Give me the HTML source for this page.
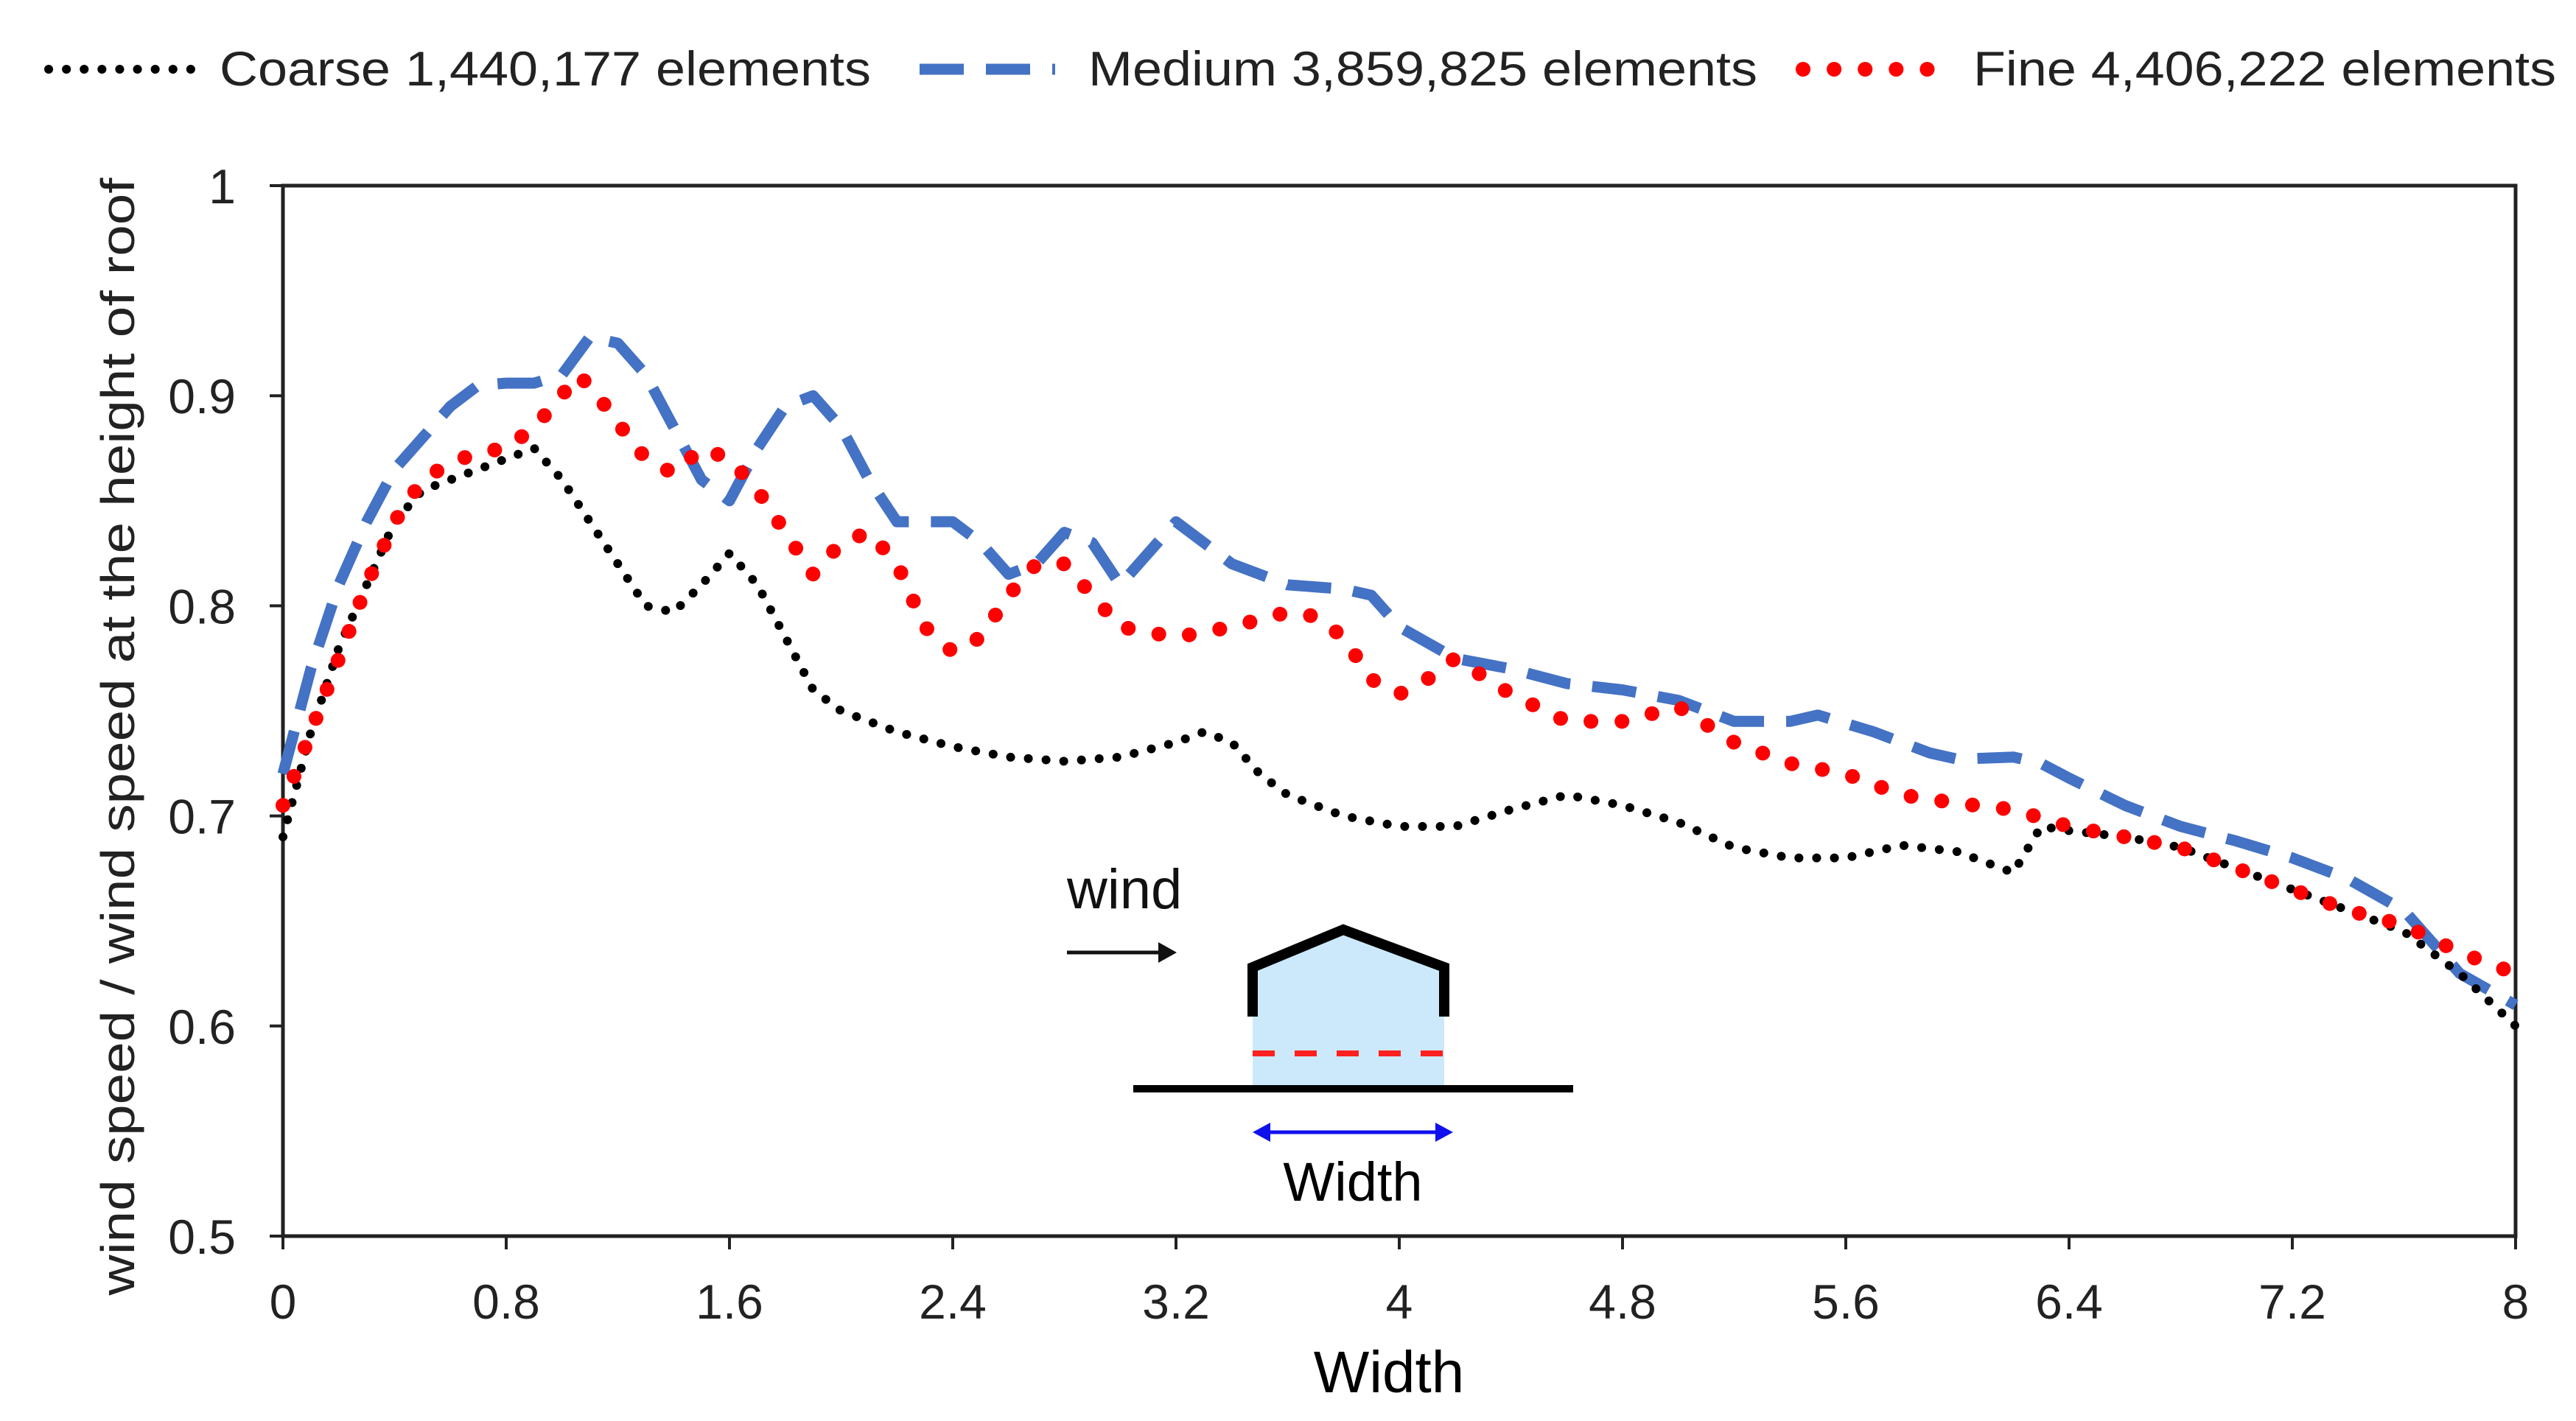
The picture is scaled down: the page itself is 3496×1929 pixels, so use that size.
<!DOCTYPE html>
<html><head><meta charset="utf-8"><style>
html,body{margin:0;padding:0;background:#fff;}
svg{display:block;}
text{font-family:"Liberation Sans",Arial,sans-serif;}
</style></head><body>
<svg id="chart" width="3496" height="1929" viewBox="0 0 3496 1929" xmlns="http://www.w3.org/2000/svg">
  <g>
    <line x1="66" y1="94" x2="264" y2="94" stroke="#000" stroke-width="12" stroke-linecap="round" stroke-dasharray="0.1 24"/>
    <text x="298" y="116" font-size="66" fill="#222" textLength="884" lengthAdjust="spacingAndGlyphs">Coarse 1,440,177 elements</text>
    <line x1="1248" y1="94" x2="1432" y2="94" stroke="#4472c4" stroke-width="15" stroke-dasharray="60 30"/>
    <text x="1477" y="116" font-size="66" fill="#222" textLength="908" lengthAdjust="spacingAndGlyphs">Medium 3,859,825 elements</text>
    <line x1="2447" y1="94" x2="2655" y2="94" stroke="#ff0000" stroke-width="20" stroke-linecap="round" stroke-dasharray="0.1 42"/>
    <text x="2678" y="116" font-size="66" fill="#222" textLength="791" lengthAdjust="spacingAndGlyphs">Fine 4,406,222 elements</text>
  </g>
  <rect x="384" y="252" width="3030" height="1426" fill="none" stroke="#222" stroke-width="5"/>
  <g id="axes"></g>
  <text x="1885" y="1890" font-size="80" text-anchor="middle" fill="#000">Width</text>
  <text transform="translate(182,1000) rotate(-90)" font-size="64" text-anchor="middle" fill="#222" textLength="1517" lengthAdjust="spacingAndGlyphs">wind speed / wind speed at the height of roof</text>
  <g>
    <text x="1448" y="1233" font-family="Liberation Serif,serif" font-size="76" fill="#111">wind</text>
    <line x1="1448" y1="1293" x2="1580" y2="1293" stroke="#111" stroke-width="5"/>
    <polygon points="1597,1293 1572,1279 1572,1307" fill="#111"/>
    <polygon points="1700,1313 1823,1262 1960,1313 1960,1475 1700,1475" fill="#cce9fb"/>
    <polyline points="1700,1380 1700,1313 1823,1262 1960,1313 1960,1380" fill="none" stroke="#000" stroke-width="14"/>
    <line x1="1700" y1="1430" x2="1965" y2="1430" stroke="#ff2020" stroke-width="8" stroke-dasharray="30 27"/>
    <line x1="1538" y1="1478" x2="2135" y2="1478" stroke="#000" stroke-width="10"/>
    <line x1="1720" y1="1537" x2="1950" y2="1537" stroke="#1010ee" stroke-width="5"/>
    <polygon points="1700,1537 1724,1524 1724,1550" fill="#1010ee"/>
    <polygon points="1972,1537 1948,1524 1948,1550" fill="#1010ee"/>
    <text x="1836" y="1630" font-size="74" text-anchor="middle" fill="#000">Width</text>
  </g>
  <g id="series"></g>
</svg>
<script>
const xTicks = [0, 0.8, 1.6, 2.4, 3.2, 4, 4.8, 5.6, 6.4, 7.2, 8];
const xTickLabels = ["0","0.8","1.6","2.4","3.2","4","4.8","5.6","6.4","7.2","8"];
const yTicks = [0.5, 0.6, 0.7, 0.8, 0.9, 1];
const yTickLabels = ["0.5","0.6","0.7","0.8","0.9","1"];

const coarseX = [0,0.1,0.2,0.3,0.4,0.5,0.6,0.7,0.8,0.9,1.0,1.1,1.2,1.3,1.4,1.5,1.6,1.7,1.8,1.9,2.0,2.2,2.4,2.6,2.8,3.0,3.2,3.3,3.4,3.5,3.6,3.8,4.0,4.2,4.4,4.6,4.8,5.0,5.2,5.4,5.6,5.8,6.0,6.2,6.3,6.4,6.6,6.8,7.0,7.2,7.4,7.6,7.8,8.0];
const coarseY = [0.69,0.74,0.78,0.81,0.84,0.855,0.86,0.865,0.87,0.875,0.86,0.84,0.82,0.80,0.797,0.81,0.825,0.81,0.785,0.76,0.75,0.74,0.733,0.728,0.726,0.728,0.735,0.74,0.735,0.72,0.71,0.70,0.695,0.695,0.703,0.71,0.705,0.697,0.685,0.68,0.68,0.686,0.683,0.673,0.695,0.693,0.69,0.685,0.675,0.665,0.655,0.645,0.625,0.60];

const mediumX = [0,0.1,0.2,0.3,0.4,0.5,0.6,0.7,0.8,0.9,1.0,1.1,1.2,1.3,1.4,1.5,1.6,1.7,1.8,1.9,2.0,2.1,2.2,2.4,2.5,2.6,2.7,2.8,2.9,3.0,3.1,3.2,3.3,3.4,3.6,3.8,3.9,4.0,4.2,4.4,4.6,4.8,5.0,5.2,5.4,5.5,5.7,5.9,6.0,6.2,6.3,6.4,6.6,6.8,7.0,7.2,7.4,7.6,7.8,8.0];
const mediumY = [0.72,0.77,0.81,0.84,0.865,0.88,0.895,0.905,0.906,0.906,0.91,0.928,0.925,0.91,0.885,0.86,0.85,0.875,0.895,0.9,0.885,0.86,0.84,0.84,0.83,0.815,0.82,0.835,0.83,0.81,0.825,0.84,0.83,0.82,0.81,0.808,0.805,0.79,0.775,0.77,0.763,0.76,0.755,0.745,0.745,0.748,0.74,0.73,0.727,0.728,0.725,0.718,0.705,0.695,0.688,0.68,0.67,0.655,0.625,0.61];

const fineX = [0,0.1,0.2,0.3,0.4,0.5,0.6,0.7,0.8,0.9,1.0,1.05,1.1,1.2,1.3,1.4,1.5,1.6,1.7,1.8,1.9,2.0,2.1,2.2,2.3,2.4,2.5,2.6,2.7,2.8,2.9,3.0,3.2,3.4,3.6,3.7,3.8,3.9,4.0,4.1,4.2,4.4,4.6,4.8,5.0,5.2,5.4,5.6,5.8,6.0,6.2,6.4,6.6,6.8,7.0,7.2,7.4,7.6,7.8,8.0];
const fineY = [0.705,0.74,0.775,0.81,0.84,0.86,0.868,0.873,0.875,0.885,0.9,0.91,0.905,0.887,0.87,0.863,0.875,0.87,0.855,0.835,0.815,0.83,0.835,0.82,0.79,0.778,0.785,0.805,0.82,0.82,0.805,0.79,0.785,0.79,0.797,0.795,0.785,0.765,0.758,0.765,0.775,0.758,0.745,0.745,0.752,0.735,0.725,0.72,0.71,0.706,0.703,0.695,0.69,0.685,0.675,0.665,0.655,0.648,0.635,0.625];

const NS = "http://www.w3.org/2000/svg";
const X0 = 384, X1 = 3414, Y0 = 1678, Y1 = 252;
function xs(v){ return X0 + (v - 0) / 8 * (X1 - X0); }
function ys(v){ return Y0 - (v - 0.5) / 0.5 * (Y0 - Y1); }

const axes = document.getElementById('axes');
xTicks.forEach((t, i) => {
  const l = document.createElementNS(NS, 'line');
  l.setAttribute('x1', xs(t)); l.setAttribute('x2', xs(t));
  l.setAttribute('y1', Y0); l.setAttribute('y2', Y0 + 18);
  l.setAttribute('stroke', '#222'); l.setAttribute('stroke-width', '4');
  
  
  axes.appendChild(l);
  const tx = document.createElementNS(NS, 'text');
  tx.setAttribute('x', xs(t)); tx.setAttribute('y', 1790);
  tx.setAttribute('font-size', '66'); tx.setAttribute('text-anchor', 'middle'); tx.setAttribute('fill', '#222');
  tx.textContent = xTickLabels[i];
  
  
  axes.appendChild(tx);
});
yTicks.forEach((t, i) => {
  const l = document.createElementNS(NS, 'line');
  l.setAttribute('x1', X0 - 18); l.setAttribute('x2', X0);
  l.setAttribute('y1', ys(t)); l.setAttribute('y2', ys(t));
  l.setAttribute('stroke', '#222'); l.setAttribute('stroke-width', '4');
  
  
  axes.appendChild(l);
  const tx = document.createElementNS(NS, 'text');
  tx.setAttribute('x', 320); tx.setAttribute('y', ys(t) + 24);
  tx.setAttribute('font-size', '66'); tx.setAttribute('text-anchor', 'end'); tx.setAttribute('fill', '#222');
  tx.textContent = yTickLabels[i];
  
  
  axes.appendChild(tx);
});

const series = document.getElementById('series');
function drawLine(xa, ya, stroke, width, dash, cap, name){
  const p = document.createElementNS(NS, 'polyline');
  p.setAttribute('points', xa.map((x, i) => xs(x).toFixed(1) + ',' + ys(ya[i]).toFixed(1)).join(' '));
  p.setAttribute('fill', 'none');
  p.setAttribute('stroke', stroke);
  p.setAttribute('stroke-width', width);
  p.setAttribute('stroke-dasharray', dash);
  p.setAttribute('stroke-linecap', cap);
  p.setAttribute('stroke-linejoin', 'round');
  
  
  series.appendChild(p);
}
drawLine(mediumX, mediumY, '#4472c4', 15, '60 30', 'butt', 'medium-series-line');
drawLine(coarseX, coarseY, '#000', 12, '0.1 24', 'round', 'coarse-series-line');
drawLine(fineX, fineY, '#ff0000', 20, '0.1 42', 'round', 'fine-series-line');
</script>
</body></html>
